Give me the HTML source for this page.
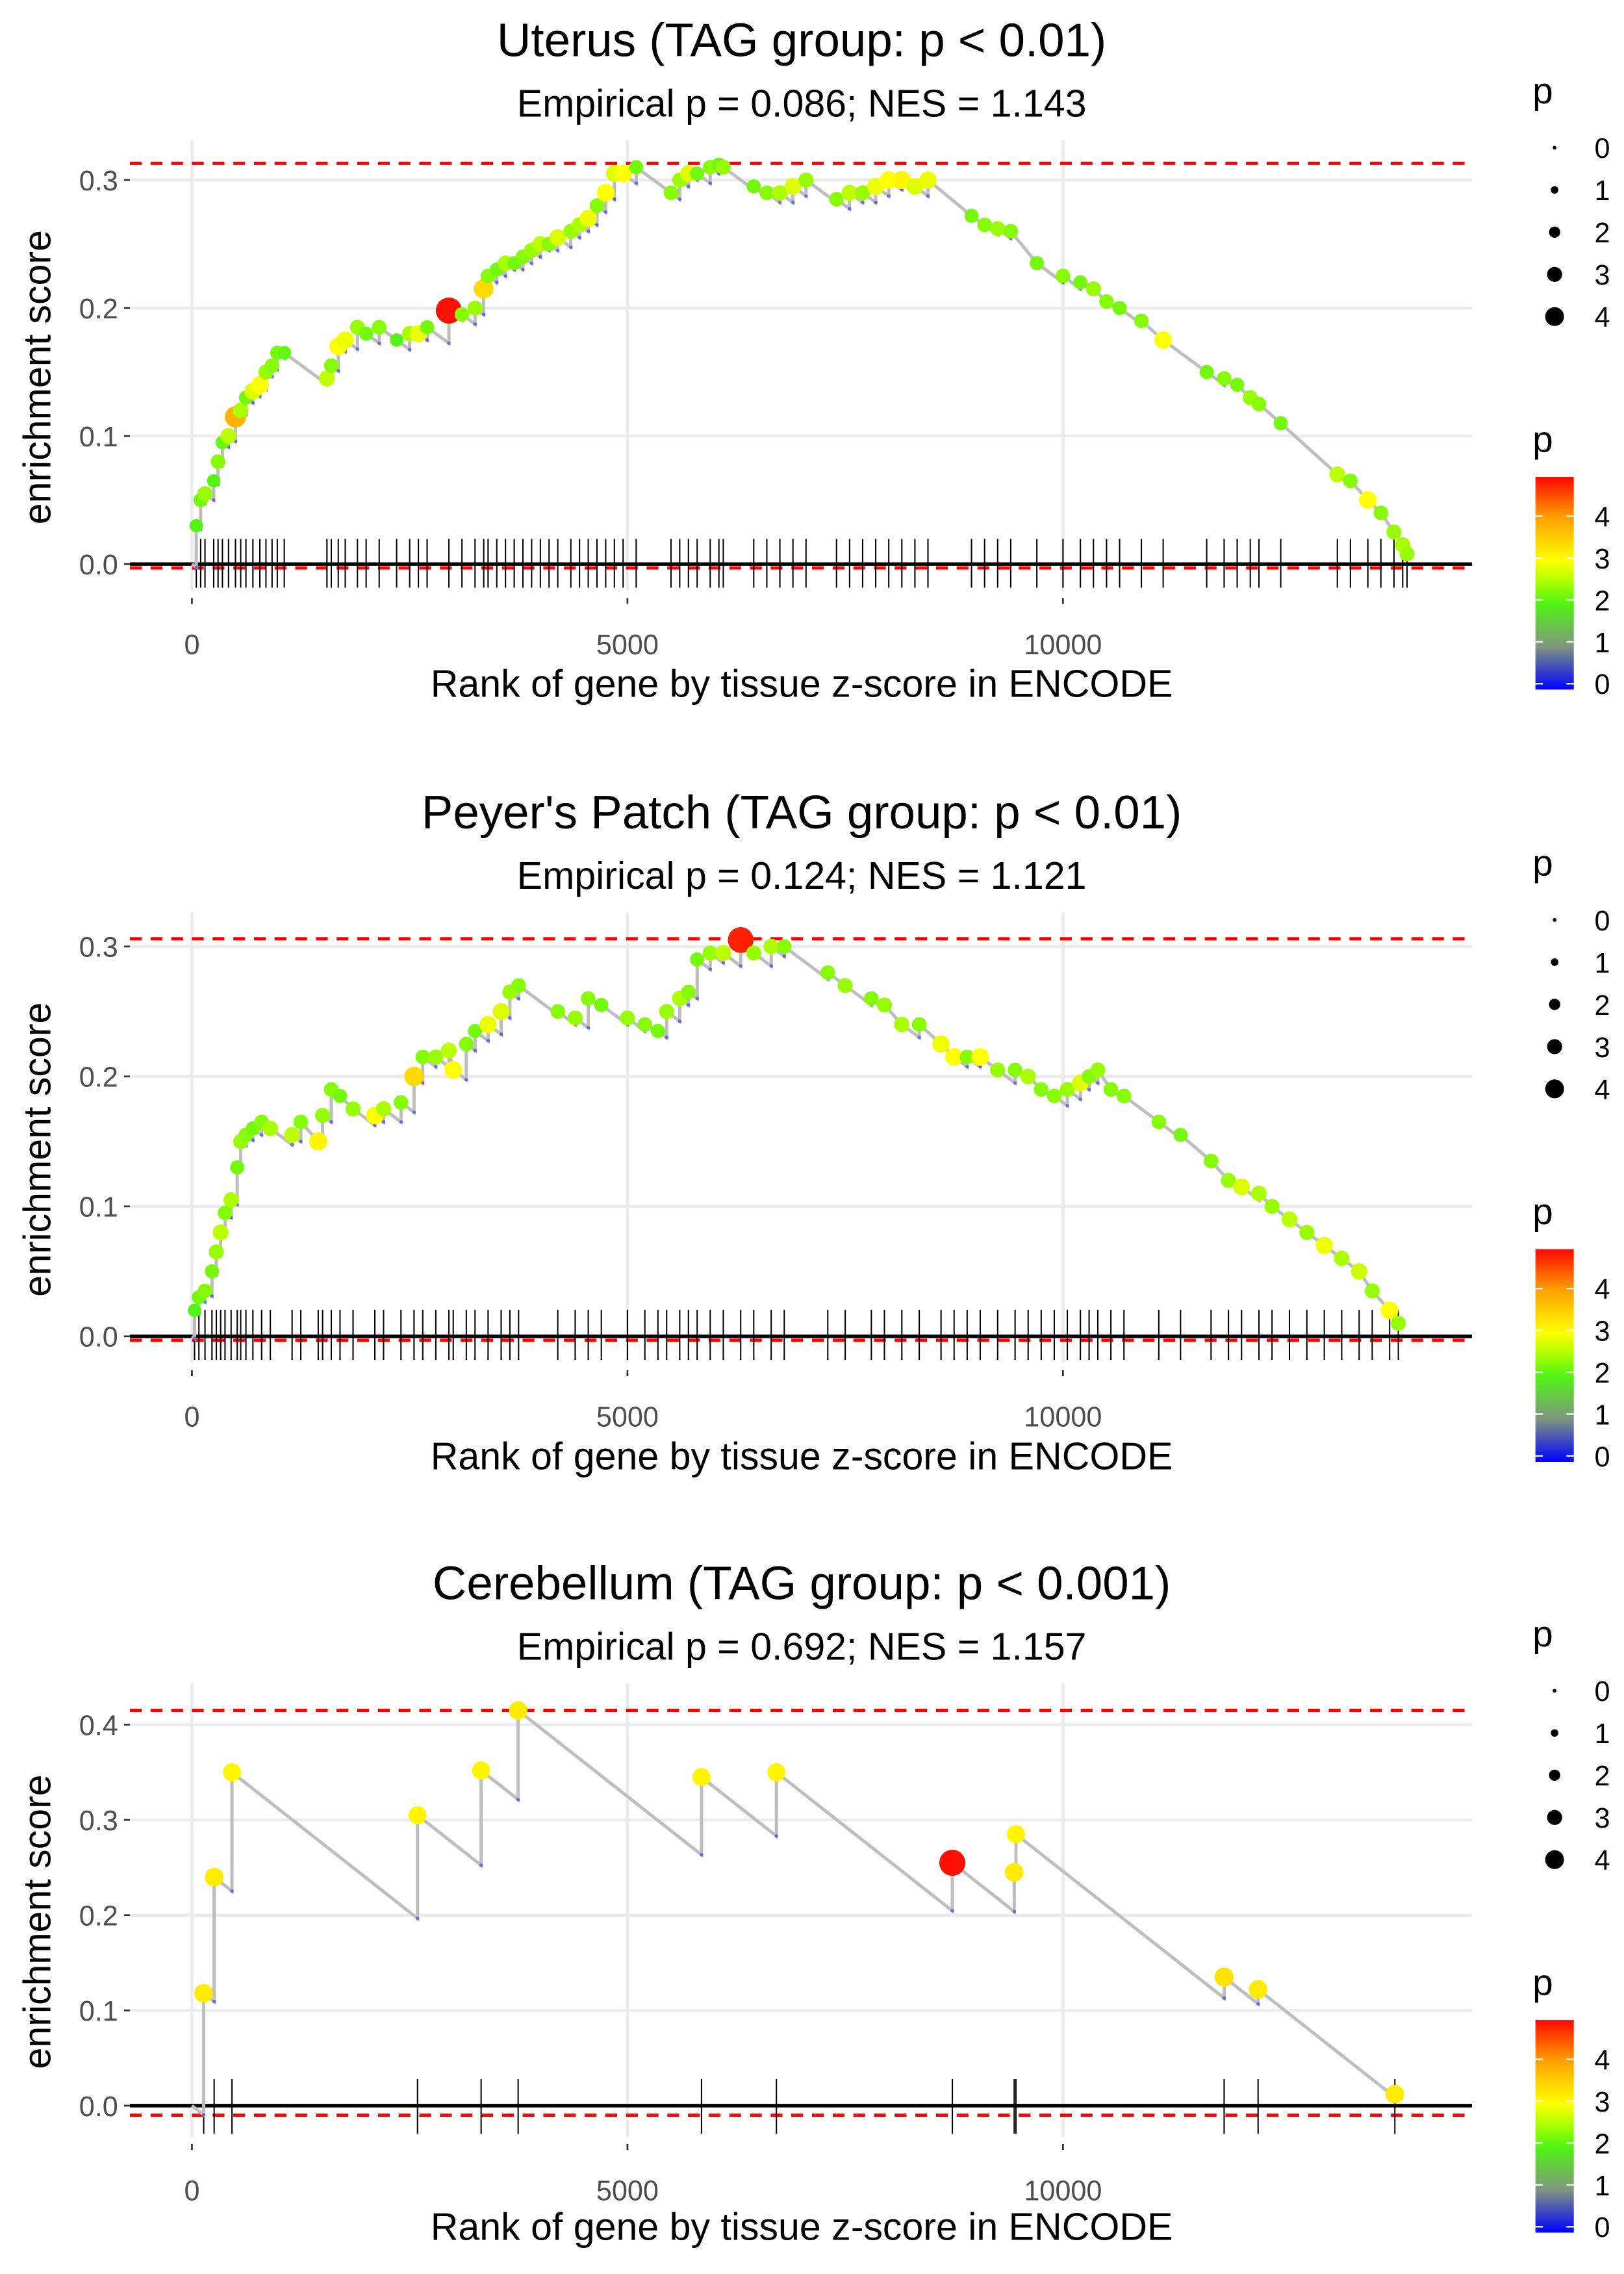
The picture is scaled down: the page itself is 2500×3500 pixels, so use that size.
<!DOCTYPE html>
<html><head><meta charset="utf-8">
<style>
html,body{margin:0;padding:0;background:#fff;}
svg{display:block;}
text{font-family:"Liberation Sans",sans-serif;}
</style></head>
<body>
<svg id="chart" width="2500" height="3500" viewBox="0 0 1100 1540" xmlns="http://www.w3.org/2000/svg"></svg>
<script>
// ---- Data ----
const panelTitles = ["Uterus (TAG group: p < 0.01)", "Peyer's Patch (TAG group: p < 0.01)", "Cerebellum (TAG group: p < 0.001)"];
const panelSubtitles = ["Empirical p = 0.086; NES = 1.143", "Empirical p = 0.124; NES = 1.121", "Empirical p = 0.692; NES = 1.157"];
const xTicks = [0, 5000, 10000];
const yTicks1 = [0.0, 0.1, 0.2, 0.3];
const yTicks2 = [0.0, 0.1, 0.2, 0.3];
const yTicks3 = [0.0, 0.1, 0.2, 0.3, 0.4];
const maxLines = [0.313, 0.306, 0.415];
const minLines = [-0.003, -0.003, -0.01];
const decays = [5e-5, 5e-5, 7.2e-5];

const ranks1 = [50,100,150,250,300,350,420,500,560,620,700,780,850,920,980,1060,1550,1600,1680,1760,1900,2000,2150,2350,2500,2600,2700,2950,3100,3250,3350,3400,3500,3600,3700,3800,3900,4000,4100,4200,4350,4450,4550,4650,4750,4850,4950,5100,5500,5600,5700,5800,5950,6050,6100,6450,6600,6750,6900,7050,7400,7550,7700,7850,8000,8150,8300,8450,8950,9100,9250,9400,9700,10000,10200,10350,10500,10650,10900,11150,11650,11850,12000,12150,12250,12500,13150,13300,13500,13650,13800,13900,13950];
const es1 = [0.03,0.05,0.055,0.065,0.08,0.095,0.10,0.115,0.12,0.13,0.135,0.14,0.15,0.155,0.165,0.165,0.145,0.155,0.17,0.175,0.185,0.18,0.185,0.175,0.18,0.18,0.185,0.198,0.195,0.20,0.215,0.225,0.23,0.235,0.235,0.24,0.245,0.25,0.25,0.255,0.26,0.265,0.27,0.28,0.29,0.305,0.305,0.31,0.29,0.30,0.305,0.305,0.31,0.312,0.31,0.295,0.29,0.29,0.295,0.30,0.285,0.29,0.29,0.295,0.30,0.30,0.295,0.30,0.272,0.265,0.262,0.26,0.235,0.225,0.22,0.215,0.205,0.20,0.19,0.175,0.15,0.145,0.14,0.13,0.125,0.11,0.07,0.065,0.05,0.04,0.025,0.015,0.008];
const p1 = [2.0,2.2,2.4,2.0,2.3,2.1,2.6,3.8,2.5,2.2,2.8,3.0,2.4,2.3,2.2,2.1,2.6,2.3,3.0,2.9,2.4,2.2,2.3,2.0,2.5,2.9,2.2,4.9,2.3,2.4,3.4,2.3,2.2,2.5,2.2,2.3,2.4,2.6,2.3,2.8,2.4,2.5,2.9,2.3,3.0,2.8,3.0,2.2,2.3,2.4,2.8,2.2,2.3,2.2,2.4,2.2,2.3,2.5,2.8,2.4,2.3,2.6,2.4,2.9,3.0,3.1,2.8,2.9,2.2,2.3,2.4,2.3,2.2,2.3,2.2,2.4,2.3,2.2,2.3,3.0,2.2,2.3,2.2,2.4,2.3,2.2,2.6,2.3,3.0,2.3,2.4,2.5,2.4];

const ranks2 = [30,80,150,230,280,330,380,450,520,560,620,700,800,900,1150,1250,1450,1500,1600,1700,1850,2100,2200,2400,2550,2650,2800,2950,3000,3150,3250,3400,3550,3650,3750,4200,4400,4550,4700,5000,5200,5350,5450,5600,5700,5800,5950,6100,6300,6450,6650,6800,7300,7500,7800,7950,8150,8350,8600,8750,8900,9050,9250,9450,9600,9750,9900,10050,10200,10300,10400,10550,10700,11100,11350,11700,11900,12050,12250,12400,12600,12800,13000,13200,13400,13550,13750,13850];
const es2 = [0.02,0.03,0.035,0.05,0.065,0.08,0.095,0.105,0.13,0.15,0.155,0.16,0.165,0.16,0.155,0.165,0.15,0.17,0.19,0.185,0.175,0.17,0.175,0.18,0.20,0.215,0.215,0.22,0.205,0.225,0.235,0.24,0.25,0.265,0.27,0.25,0.245,0.26,0.255,0.245,0.24,0.235,0.25,0.26,0.265,0.29,0.295,0.295,0.305,0.295,0.30,0.30,0.28,0.27,0.26,0.255,0.24,0.24,0.225,0.215,0.215,0.215,0.205,0.205,0.20,0.19,0.185,0.19,0.195,0.20,0.205,0.19,0.185,0.165,0.155,0.135,0.12,0.115,0.11,0.10,0.09,0.08,0.07,0.06,0.05,0.035,0.02,0.01];
const p2 = [2.0,2.2,2.3,2.2,2.4,2.6,2.3,2.5,2.2,2.4,2.3,2.2,2.3,2.5,2.6,2.3,3.1,2.4,2.3,2.2,2.4,3.0,2.5,2.3,3.4,2.3,2.4,2.6,3.0,2.3,2.2,2.9,2.8,2.4,2.3,2.3,2.4,2.3,2.2,2.4,2.3,2.2,2.4,2.5,2.3,2.2,2.4,2.6,4.8,2.4,2.5,2.3,2.3,2.4,2.3,2.4,2.5,2.3,2.9,3.0,2.3,3.0,2.4,2.3,2.5,2.3,2.3,2.4,2.8,2.3,2.4,2.3,2.3,2.3,2.2,2.3,2.4,2.8,2.5,2.4,2.6,2.4,2.9,2.5,2.7,2.4,3.0,2.4];

const ranks3 = [135,255,460,2590,3320,3745,5850,6710,8730,9440,9460,11850,12240,13810];
const es3 = [0.118,0.24,0.35,0.305,0.352,0.415,0.345,0.35,0.255,0.245,0.285,0.135,0.122,0.012];
const p3 = [3.2,3.2,3.1,3.1,3.1,3.2,3.1,3.1,4.9,3.2,3.1,3.3,3.2,3.2];

const panelRanks = [ranks1, ranks2, ranks3];
const panelES = [es1, es2, es3];
const panelP = [p1, p2, p3];
const panelYTicks = [yTicks1, yTicks2, yTicks3];
const legendSizes = [0, 1, 2, 3, 4];
const colorbarTicks = [0, 1, 2, 3, 4];

// ---- Layout (not data) ----
const NS = "http://www.w3.org/2000/svg";
const svg = document.getElementById('chart');
const layouts = [
  {off: 0, y0: 382, yPer: 867, rugTop: 365, rugBot: 398, top: 95, bot: 400},
  {off: 523, y0: 905, yPer: 880, rugTop: 887, rugBot: 921, top: 618, bot: 923},
  {off: 1045, y0: 1426, yPer: 645, rugTop: 1408, rugBot: 1445, top: 1140, bot: 1447}
];
const X0 = 130, XPER = 295 / 5000, LEFT = 88, RIGHT = 997;
function xs(r) { return X0 + r * XPER; }

function el(tag, attrs, parent, text) {
  const e = document.createElementNS(NS, tag);
  for (const k in attrs) e.setAttribute(k, attrs[k]);
  if (text !== undefined) e.textContent = text;
  (parent || svg).appendChild(e);
  return e;
}
function pColor(p) {
  const stops = [[0,[0,0,255]],[1,[128,150,128]],[2,[80,245,20]],[2.5,[170,255,0]],[3,[255,255,0]],[4,[255,160,0]],[5,[255,0,0]]];
  if (p <= 0) return 'rgb(0,0,255)';
  for (let i = 1; i < stops.length; i++) {
    if (p <= stops[i][0]) {
      const a = stops[i-1], b = stops[i], t = (p - a[0]) / (b[0] - a[0]);
      const c = a[1].map((v, j) => Math.round(v + (b[1][j] - v) * t));
      return 'rgb(' + c.join(',') + ')';
    }
  }
  return 'rgb(255,0,0)';
}
function pRadius(p) { return 1.5 + 1.5 * p; }

const defs = el('defs', {});
const grad = el('linearGradient', {id: 'cbar', x1: 0, y1: 1, x2: 0, y2: 0}, defs);
[0, 0.5, 1, 1.5, 2, 2.5, 3, 3.5, 4, 4.5, 4.95].forEach(v => {
  el('stop', {offset: (v / 4.95).toFixed(3), 'stop-color': pColor(v)}, grad);
});

layouts.forEach((L, i) => {
  const g = el('g', {});
  
  
  const ys = v => L.y0 - v * L.yPer;
  const ranks = panelRanks[i], es = panelES[i], ps = panelP[i];

  const t = el('text', {x: 543, y: 38 + L.off, 'font-size': 32, 'text-anchor': 'middle', fill: '#000'}, g, panelTitles[i]);
  
  
  const st = el('text', {x: 543, y: 79 + L.off, 'font-size': 26, 'text-anchor': 'middle', fill: '#000'}, g, panelSubtitles[i]);
  
  

  panelYTicks[i].forEach(v => {
    const gl = el('line', {x1: LEFT, x2: RIGHT, y1: ys(v), y2: ys(v), stroke: '#ebebeb', 'stroke-width': 2}, g);
    
    
    el('line', {x1: 84, x2: 88, y1: ys(v), y2: ys(v), stroke: '#333', 'stroke-width': 1.2}, g);
    const tl = el('text', {x: 80, y: ys(v) + 7, 'font-size': 19, 'text-anchor': 'end', fill: '#4d4d4d'}, g, v.toFixed(1));
    
    
  });
  xTicks.forEach(v => {
    const gl = el('line', {x1: xs(v), x2: xs(v), y1: L.top, y2: L.bot, stroke: '#ebebeb', 'stroke-width': 2}, g);
    
    
    el('line', {x1: xs(v), x2: xs(v), y1: L.bot + 5, y2: L.bot + 9, stroke: '#333', 'stroke-width': 1.2}, g);
    const tl = el('text', {x: xs(v), y: L.bot + 43, 'font-size': 19, 'text-anchor': 'middle', fill: '#4d4d4d'}, g, String(v));
    
    
  });

  const mx = el('line', {x1: LEFT, x2: RIGHT, y1: ys(maxLines[i]), y2: ys(maxLines[i]), stroke: '#ff0000', 'stroke-width': 2.2, 'stroke-dasharray': '8,6'}, g);
  
  
  const mn = el('line', {x1: LEFT, x2: RIGHT, y1: ys(minLines[i]), y2: ys(minLines[i]), stroke: '#ff0000', 'stroke-width': 2.2, 'stroke-dasharray': '8,6'}, g);
  
  

  const zl = el('line', {x1: LEFT, x2: RIGHT, y1: ys(0), y2: ys(0), stroke: '#000', 'stroke-width': 2.4}, g);
  
  

  ranks.forEach(r => {
    const rl = el('line', {x1: xs(r), x2: xs(r), y1: L.rugTop, y2: L.rugBot, stroke: '#000', 'stroke-width': 0.9}, g);
    
    
  });

  let prevR = 0, prevE = 0;
  let d = 'M' + xs(0) + ',' + ys(0);
  const pres = [];
  ranks.forEach((r, k) => {
    let pre = prevE - decays[i] * (r - prevR);
    if (pre > es[k]) pre = es[k];
    pres.push(pre);
    d += ' L' + xs(r).toFixed(2) + ',' + ys(pre).toFixed(2) + ' L' + xs(r).toFixed(2) + ',' + ys(es[k]).toFixed(2);
    prevR = r; prevE = es[k];
  });
  const line = el('path', {d: d, fill: 'none', stroke: '#bebebe', 'stroke-width': 2.2}, g);
  
  
  ranks.forEach((r, k) => {
    const bd = el('circle', {cx: xs(r), cy: ys(pres[k]), r: 1.2, fill: '#6a6ad8'}, g);
    
    
  });
  ranks.forEach((r, k) => {
    const c = el('circle', {cx: xs(r), cy: ys(es[k]), r: pRadius(ps[k]), fill: pColor(ps[k])}, g);
    
    
  });

  const xt = el('text', {x: 543, y: 472 + L.off, 'font-size': 26, 'text-anchor': 'middle', fill: '#000'}, g, 'Rank of gene by tissue z-score in ENCODE');
  
  
  const ymid = (L.top + L.bot) / 2 + 8;
  const yt = el('text', {x: 0, y: 0, 'font-size': 26, 'text-anchor': 'middle', fill: '#000', transform: 'translate(34,' + ymid + ') rotate(-90)'}, g, 'enrichment score');
  
  

  const sl = el('g', {}, g);
  
  
  el('text', {x: 1038, y: 70 + L.off, 'font-size': 25, fill: '#000'}, sl, 'p');
  legendSizes.forEach((s, k) => {
    const yy = 100 + k * 28.6 + L.off;
    const lc = el('circle', {cx: 1053, cy: yy, r: pRadius(s) * 0.85, fill: '#000'}, sl);
    
    
    el('text', {x: 1080, y: yy + 7, 'font-size': 19, fill: '#000'}, sl, String(s));
  });

  const cl = el('g', {}, g);
  
  
  el('text', {x: 1038, y: 306 + L.off, 'font-size': 25, fill: '#000'}, cl, 'p');
  const cbTop = 323 + L.off, cbBot = 467 + L.off, cbPer = (cbBot - cbTop) / 5.08;
  const bar = el('rect', {x: 1040, y: cbTop, width: 26, height: cbBot - cbTop, fill: 'url(#cbar)'}, cl);
  
  
  colorbarTicks.forEach(v => {
    const yy = cbBot - 4 - v * cbPer;
    el('line', {x1: 1040, x2: 1045, y1: yy, y2: yy, stroke: '#fff', 'stroke-width': 1}, cl);
    el('line', {x1: 1061, x2: 1066, y1: yy, y2: yy, stroke: '#fff', 'stroke-width': 1}, cl);
    el('text', {x: 1080, y: yy + 7, 'font-size': 19, fill: '#000'}, cl, String(v));
  });
});
</script>
</body></html>
